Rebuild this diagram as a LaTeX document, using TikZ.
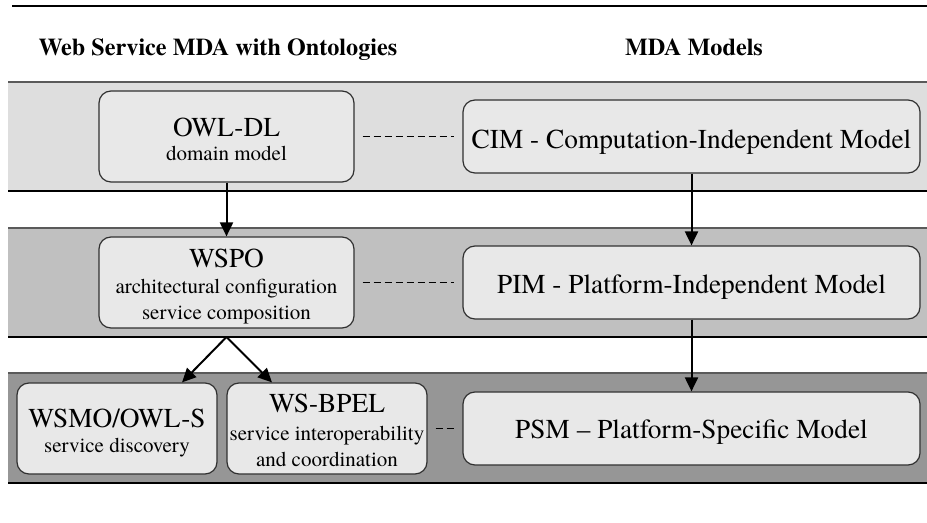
\documentclass[tikz,border=0pt]{standalone}
\usepackage{fontspec}
\setmainfont{texgyretermes}[Extension=.otf, UprightFont=*-regular, BoldFont=*-bold, ItalicFont=*-italic, BoldItalicFont=*-bolditalic]
\usetikzlibrary{arrows.meta,calc}

\definecolor{bandA}{HTML}{DEDEDE}
\definecolor{bandB}{HTML}{C0C0C0}
\definecolor{bandC}{HTML}{969696}
\definecolor{bandtop}{HTML}{5A5A5A}
\definecolor{boxfill}{HTML}{E8E8E8}
\definecolor{boxedge}{HTML}{303030}

\begin{document}
\begin{tikzpicture}[x=0.75pt,y=-0.75pt,
  modelbox/.style={draw=boxedge, fill=boxfill, line width=0.9pt, rounded corners=9pt, inner sep=0pt},
  title/.style={anchor=base, inner sep=0pt, font=\fontsize{20.5}{24}\selectfont},
  sub/.style={anchor=base, inner sep=0pt, font=\fontsize{15.75}{19}\selectfont},
  head/.style={anchor=base, inner sep=0pt, font=\bfseries\fontsize{18.15}{22}\selectfont},
  flow/.style={line width=1.5pt, -{Triangle[length=10.5pt,width=9.75pt]}},
  link/.style={line width=1pt, dash pattern=on 5.25pt off 3pt, shorten <=6pt, shorten >=6pt}]

\useasboundingbox (0,0) rectangle (927,523);

% rule and column headings
\draw[line width=1.3pt] (12,6) -- (927,6);
\node[head] (hleft) at (218,56) {Web Service MDA with Ontologies};
\node[head] (hright) at (694,56) {MDA Models};

% three level bands
\fill[bandA] (8,82) rectangle (927,191);
\fill[bandB] (8,228) rectangle (927,337);
\fill[bandC] (8,373) rectangle (927,483);
\foreach \t/\b in {82/191, 228/337, 373/483}{
  \draw[bandtop, line width=1.2pt] (8,\t) -- (927,\t);
  \draw[black, line width=1.1pt] (8,\b) -- (927,\b);
}

% ontology column
\node[modelbox, minimum width=191.25pt, minimum height=68.25pt] (owl) at (226.5,136.5) {};
\node[title] (owlT) at (226.5,137) {OWL-DL};
\node[sub] (owlS) at (226.5,161) {domain model};

\node[modelbox, minimum width=191.25pt, minimum height=68.25pt] (wspo) at (226.5,282.5) {};
\node[title] (wspoT) at (226.5,268) {WSPO};
\node[sub] (wspoS1) at (226.5,294) {architectural configuration};
\node[sub] (wspoS2) at (226.5,320) {service composition};

\node[modelbox, minimum width=150pt, minimum height=68.25pt] (wsmo) at (117,428.5) {};
\node[title] (wsmoT) at (117,427) {WSMO/OWL-S};
\node[sub] (wsmoS) at (117,452) {service discovery};

\node[modelbox, minimum width=150pt, minimum height=68.25pt] (bpel) at (327,428.5) {};
\node[title] (bpelT) at (327,412.5) {WS-BPEL};
\node[sub] (bpelS1) at (327,440) {service interoperability};
\node[sub] (bpelS2) at (327,466) {and coordination};

% MDA column
\node[modelbox, minimum width=342.75pt, minimum height=54.75pt] (cim) at (691.5,136.5) {};
\node[title] (cimT) at (691.5,148.3) {CIM - Computation-Independent Model};

\node[modelbox, minimum width=342.75pt, minimum height=54.75pt] (pim) at (691.5,282.5) {};
\node[title] (pimT) at (691.5,293.5) {PIM - Platform-Independent Model};

\node[modelbox, minimum width=342.75pt, minimum height=54.75pt] (psm) at (691.5,428.5) {};
\node[title] (psmT) at (691.5,438.5) {PSM \textendash{} Platform-Specific Model};

% refinement arrows
\draw[flow] (owl.south) -- (wspo.north);
\draw[flow] (cim.south) -- (pim.north);
\draw[flow] (pim.south) -- (psm.north);
\coordinate (fork) at (226.5,337);
\draw[flow] (fork) -- ($(wsmo.north)+(65,0)$);
\draw[flow] (fork) -- ($(bpel.north)+(-55,0)$);

% correspondences between the columns
\draw[link] (owl.east) -- (cim.west);
\draw[link] (wspo.east) -- (pim.west);
\draw[link] (bpel.east) -- (psm.west);
\end{tikzpicture}
\end{document}
